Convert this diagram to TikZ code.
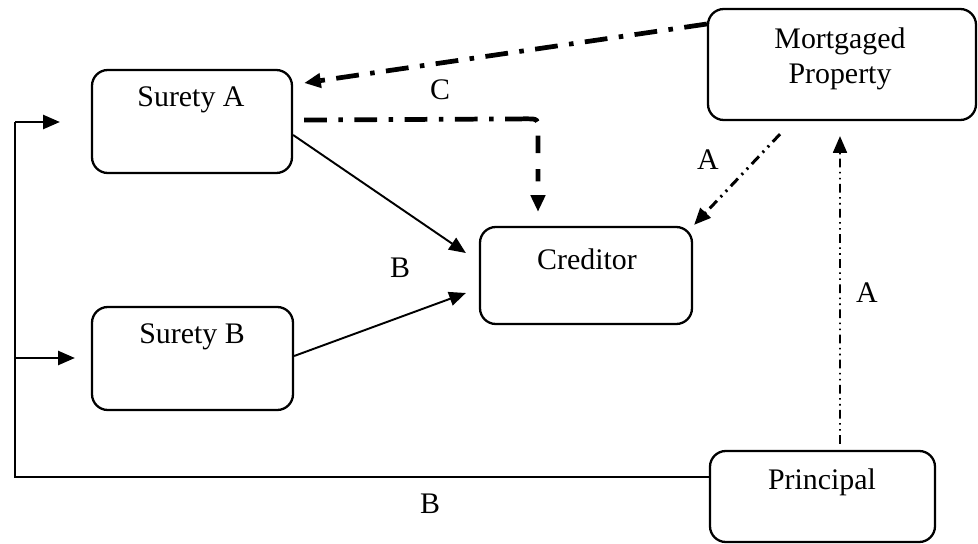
\documentclass[tikz,border=0pt]{standalone}
\usepackage{fontspec}
\setmainfont{Liberation Serif}
\usetikzlibrary{arrows.meta,calc}
\tikzset{
  box/.style={draw, line width=1.3pt, rounded corners=9pt, inner sep=0pt},
  lbl/.style={font=\fontsize{17}{20}\selectfont, inner sep=0pt, align=center},
  tip/.style={-{Triangle[length=9.5pt,width=8pt]}},
  solidline/.style={line width=1.1pt, tip},
  dashdotthick/.style={line width=2.7pt, dash pattern=on 13pt off 6.5pt on 2.6pt off 6.5pt},
  dashedthick/.style={line width=2.7pt, dash pattern=on 7pt off 8pt on 10pt off 9pt, tip},
  dashdotdotA/.style={line width=1.7pt, dash pattern=on 6pt off 3pt on 1.2pt off 3pt on 1.2pt off 3pt, tip},
  dashdotdotB/.style={line width=0.9pt, dash pattern=on 5pt off 2.5pt on 0.9pt off 2.5pt on 0.9pt off 2.5pt, tip},
}
\begin{document}
\begin{tikzpicture}[x=0.02cm,y=-0.02cm]
\useasboundingbox (0,0) rectangle (978,544);
% boxes
\node[box, minimum width=200*0.02cm, minimum height=103*0.02cm] (sa) at (192,121.5) {};
\node[box, minimum width=201*0.02cm, minimum height=103*0.02cm] (sb) at (192.5,358.5) {};
\node[box, minimum width=212*0.02cm, minimum height=97*0.02cm] (cr) at (586,275.5) {};
\node[box, minimum width=268*0.02cm, minimum height=111*0.02cm] (mp) at (842,64.5) {};
\node[box, minimum width=225*0.02cm, minimum height=91*0.02cm] (pr) at (822.5,496.5) {};
% box texts
\node[lbl] (sat) at (191,100) {Surety A};
\node[lbl] (sbt) at (192,337) {Surety B};
\node[lbl] (crt) at (587,259) {Creditor};
\node[lbl] (mpt) at (840,59) {Mortgaged\\Property};
\node[lbl] (prt) at (822,482) {Principal};
% connector labels
\node[lbl] (lc) at (440,90) {C};
\node[lbl] (lb1) at (400,268) {B};
\node[lbl] (la1) at (708,160) {A};
\node[lbl] (la2) at (867,293) {A};
\node[lbl] (lb2) at (430,504) {B};
% C: mortgaged property -> surety A
\draw[dashdotthick, tip] ($(mp.west)+(0,-40.5)$) -- ($(sa.east)+(11,-38.5)$);
% surety A -> creditor (dash dot, then dashed down)
\coordinate (ccorner) at ($(cr.north)+(-48,-107)$);
\draw[dashdotthick] ($(sa.east)+(11,-1.5)$) -- ($(ccorner)+(-12,0)$);
\draw[dashedthick] ($(ccorner)+(-12,0)$) .. controls (ccorner) .. ($(ccorner)+(0,12)$) -- ($(cr.north)+(-48,-14)$);
% B solid lines
\draw[solidline] ($(sa.east)+(0,13.5)$) -- ($(cr.west)+(-13,-22.5)$);
\draw[solidline] ($(sb.east)+(0,-2.5)$) -- ($(cr.west)+(-13,17.5)$);
% A: mortgaged property -> creditor
\draw[dashdotdotA] ($(mp.south)+(-62,13)$) -- ($(cr.north east)+(1,-1)$);
% A: principal -> mortgaged property
\draw[dashdotdotB] ($(pr.north)+(17.5,-6)$) -- ($(mp.south)+(-2,15)$);
% B: principal -> sureties
\coordinate (lt) at (15,122);
\coordinate (lm) at (15,358);
\draw[line width=1.1pt] (pr.west |- 0,477) -- (15,477) -- (lt);
\draw[solidline] (lt) -- ($(sa.west)+(-31,0.5)$);
\draw[solidline] (lm) -- ($(sb.west)+(-16,-0.5)$);
\end{tikzpicture}
\end{document}
